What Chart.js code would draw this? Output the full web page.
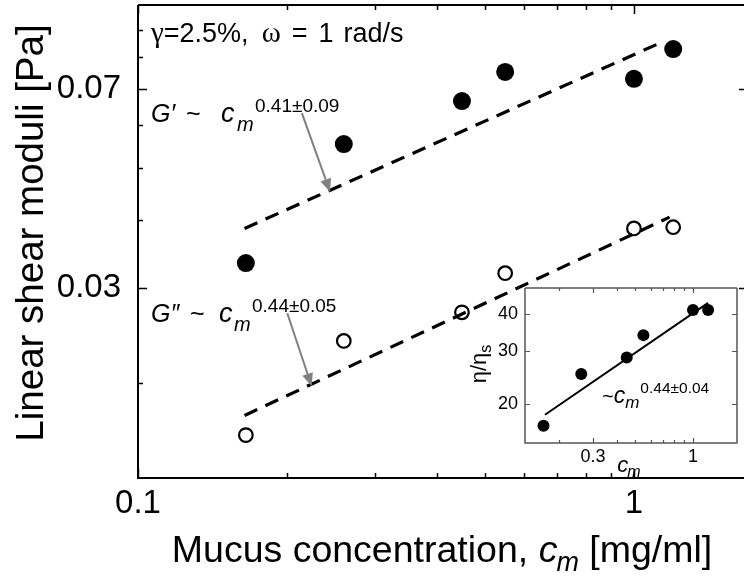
<!DOCTYPE html>
<html>
<head>
<meta charset="utf-8">
<title>Mucus moduli</title>
<script src="https://cdn.jsdelivr.net/npm/chart.js@4/dist/chart.umd.min.js"></script>
<style>
  html, body { margin: 0; padding: 0; background: #fff; }
  #wrap { position: relative; width: 744px; height: 577px; overflow: hidden; }
  #mainChart { position: absolute; left: 0; top: 0; }
  #insetChart { position: absolute; left: 440px; top: 280px; }
</style>
</head>
<body>
<div id="wrap">
  <canvas id="mainChart" width="744" height="577"></canvas>
  <canvas id="insetChart" width="304" height="205"></canvas>
</div>
<script>
const SANS = '"Liberation Sans", Arial, sans-serif';
const SERIF = '"Liberation Serif", "Times New Roman", serif';

// mucus concentration c_m [mg/ml]
const concentration = [0.165, 0.26, 0.45, 0.55, 1.0, 1.2];
// G' and G'' [Pa]
const storageModulus = [0.0333, 0.0553, 0.0664, 0.0752, 0.0730, 0.0829];
const lossModulus = [0.0160, 0.0239, 0.0270, 0.0319, 0.0386, 0.0388];
// inset: eta / eta_s
const viscosityRatio = [16.9, 25.2, 28.6, 34.0, 41.3, 41.3];

// power-law fit end points
const storageFitX = [0.164, 1.14];
const storageFitY = [0.0386, 0.0854];
const lossFitX = [0.164, 1.18];
const lossFitY = [0.0174, 0.0405];
const viscosityFitX = [0.168, 1.2];
const viscosityFitY = [18.4, 43.6];

// ticks
const mainXTicks = [0.1, 0.2, 0.3, 0.4, 0.5, 0.6, 0.7, 0.8, 0.9, 1];
const mainXLabels = [0.1, 1];
const mainYTicks = [0.02, 0.03, 0.04, 0.05, 0.06, 0.07, 0.08, 0.09];
const mainYLabels = [0.03, 0.07];
const insetXTicks = [0.2, 0.3, 0.4, 0.5, 0.6, 0.7, 0.8, 0.9, 1];
const insetXLabels = [0.3, 1];
const insetYTicks = [20, 30, 40];
const insetYLabels = [20, 30, 40];

// arrows pointing at the fit lines (data coordinates)
const arrows = [
  { from: [0.214, 0.0631], to: [0.244, 0.0451] },
  { from: [0.200, 0.0269], to: [0.224, 0.0197] }
];

function pairs(xs, ys) {
  return xs.map((x, i) => ({ x: x, y: ys[i] }));
}

// draws a row of text runs; a run may carry its own x (at), a shift (dx)
// and a baseline offset (dy)
function drawRun(ctx, x, y, runs, align) {
  ctx.save();
  ctx.fillStyle = '#000';
  ctx.textBaseline = 'alphabetic';
  ctx.textAlign = 'left';
  let total = 0;
  runs.forEach(r => {
    ctx.font = r.font;
    total += (r.dx || 0) + ctx.measureText(r.text).width;
  });
  let cx = align === 'center' ? x - total / 2 : x;
  runs.forEach(r => {
    ctx.font = r.font;
    if (r.at !== undefined) cx = r.at;
    cx += r.dx || 0;
    ctx.fillText(r.text, cx, y + (r.dy || 0));
    cx += ctx.measureText(r.text).width;
  });
  ctx.restore();
}

function drawFrame(chart, o) {
  const ctx = chart.ctx;
  const { left, right, top, bottom } = chart.chartArea;
  const xs = chart.scales.x, ys = chart.scales.y;
  ctx.save();
  ctx.strokeStyle = o.color;
  ctx.lineWidth = o.lineWidth;
  ctx.beginPath();
  ctx.moveTo(left, top);
  ctx.lineTo(left, bottom);
  ctx.lineTo(right, bottom);
  if (o.rightLine) ctx.lineTo(right, top);
  ctx.moveTo(left, top);
  ctx.lineTo(right, top);
  ctx.stroke();

  ctx.lineWidth = o.tickWidth;
  ctx.beginPath();
  o.xTicks.forEach(v => {
    const px = Math.round(xs.getPixelForValue(v)) + 0.5;
    const len = o.xMajor.includes(v) ? o.major : o.minor;
    ctx.moveTo(px, bottom);
    ctx.lineTo(px, bottom - len);
    ctx.moveTo(px, top);
    ctx.lineTo(px, top + len);
  });
  o.yTicks.forEach(v => {
    const py = Math.round(ys.getPixelForValue(v)) + 0.5;
    const major = o.yMajor.includes(v);
    const len = major ? o.major : o.minor;
    ctx.moveTo(left, py);
    ctx.lineTo(left + len, py);
    if (major || o.rightMinor) {
      ctx.moveTo(right, py);
      ctx.lineTo(right - o.rightLen, py);
    }
  });
  ctx.stroke();
  ctx.restore();
}

function drawArrow(ctx, x0, y0, x1, y1) {
  const ang = Math.atan2(y1 - y0, x1 - x0);
  const head = 13, half = 5.5;
  const bx = x1 - head * Math.cos(ang), by = y1 - head * Math.sin(ang);
  ctx.save();
  ctx.strokeStyle = '#808080';
  ctx.fillStyle = '#808080';
  ctx.lineWidth = 2;
  ctx.beginPath();
  ctx.moveTo(x0, y0);
  ctx.lineTo(bx, by);
  ctx.stroke();
  ctx.beginPath();
  ctx.moveTo(x1, y1);
  ctx.lineTo(bx + half * Math.sin(ang), by - half * Math.cos(ang));
  ctx.lineTo(bx - half * Math.sin(ang), by + half * Math.cos(ang));
  ctx.closePath();
  ctx.fill();
  ctx.restore();
}

const mainDecor = {
  id: 'mainDecor',
  afterDraw(chart) {
    const ctx = chart.ctx;
    const xs = chart.scales.x, ys = chart.scales.y;
    drawFrame(chart, {
      color: '#000', lineWidth: 2, tickWidth: 1.5, rightLine: false,
      xTicks: mainXTicks, xMajor: mainXLabels,
      yTicks: mainYTicks, yMajor: mainYLabels,
      major: 9, minor: 5, rightLen: 5, rightMinor: false
    });

    arrows.forEach(a => {
      drawArrow(ctx,
        xs.getPixelForValue(a.from[0]), ys.getPixelForValue(a.from[1]),
        xs.getPixelForValue(a.to[0]), ys.getPixelForValue(a.to[1]));
    });

    // measurement conditions
    drawRun(ctx, 151, 42, [
      { text: 'γ', font: '29px ' + SERIF },
      { text: '=2.5%,', font: '27px ' + SANS },
      { text: 'ω', font: '29px ' + SERIF, dx: 13 },
      { text: '=', font: '27px ' + SANS, dx: 11 },
      { text: '1', font: '27px ' + SANS, dx: 11 },
      { text: 'rad/s', font: '27px ' + SANS, dx: 10 }
    ]);

    // scaling laws
    drawRun(ctx, 151, 122, [
      { text: 'G′', font: 'italic 25px ' + SANS, at: 151 },
      { text: '~', font: '25px ' + SANS, at: 186 },
      { text: 'c', font: 'italic 27px ' + SANS, at: 221 },
      { text: 'm', font: 'italic 20px ' + SANS, at: 237, dy: 9 },
      { text: '0.41±0.09', font: '19px ' + SANS, at: 255, dy: -10 }
    ]);
    drawRun(ctx, 151, 322, [
      { text: 'G″', font: 'italic 25px ' + SANS, at: 151 },
      { text: '~', font: '25px ' + SANS, at: 190 },
      { text: 'c', font: 'italic 27px ' + SANS, at: 219 },
      { text: 'm', font: 'italic 20px ' + SANS, at: 234, dy: 9 },
      { text: '0.44±0.05', font: '19px ' + SANS, at: 252, dy: -10 }
    ]);

    // axis titles
    ctx.save();
    ctx.translate(43, 233);
    ctx.rotate(-Math.PI / 2);
    drawRun(ctx, 0, 0, [{ text: 'Linear shear moduli [Pa]', font: '38.5px ' + SANS }], 'center');
    ctx.restore();

    drawRun(ctx, 442, 562, [
      { text: 'Mucus concentration, ', font: '37.5px ' + SANS },
      { text: 'c', font: 'italic 37.5px ' + SANS },
      { text: 'm', font: 'italic 27px ' + SANS, dy: 9, dx: -1 },
      { text: ' [mg/ml]', font: '37.5px ' + SANS }
    ], 'center');
  }
};

const insetDecor = {
  id: 'insetDecor',
  afterDraw(chart) {
    const ctx = chart.ctx;
    drawFrame(chart, {
      color: '#555', lineWidth: 1.5, tickWidth: 1.2, rightLine: true,
      xTicks: insetXTicks, xMajor: insetXLabels,
      yTicks: insetYTicks, yMajor: insetYLabels,
      major: 5, minor: 3, rightLen: 5, rightMinor: true
    });

    drawRun(ctx, 162, 123, [
      { text: '~', font: '20px ' + SANS },
      { text: 'c', font: 'italic 23px ' + SANS },
      { text: 'm', font: 'italic 17px ' + SANS, dy: 5 },
      { text: '0.44±0.04', font: '15.5px ' + SANS, dy: -10, dx: 1 }
    ]);

    ctx.save();
    ctx.translate(46, 84);
    ctx.rotate(-Math.PI / 2);
    drawRun(ctx, 0, 0, [
      { text: 'η/η', font: '22px ' + SANS },
      { text: 's', font: '16px ' + SANS, dy: 5 }
    ], 'center');
    ctx.restore();

    drawRun(ctx, 189, 192, [
      { text: 'c', font: 'italic 22px ' + SANS },
      { text: 'm', font: 'italic 16px ' + SANS, dy: 5, dx: -1 }
    ], 'center');
  }
};

// log axis with a fixed tick list; label padding is zeroed so the plot box
// sits exactly where the layout padding puts it
function logAxis(min, max, ticks, labels, font, padding, size) {
  return {
    type: 'logarithmic',
    min: min,
    max: max,
    grid: { display: false, drawTicks: false },
    border: { display: false },
    afterBuildTicks: s => { s.ticks = ticks.map(v => ({ value: v })); },
    afterFit: s => {
      if (s.isHorizontal()) s.height = size; else s.width = size;
      s.paddingTop = 0;
      s.paddingBottom = 0;
      s.paddingLeft = 0;
      s.paddingRight = 0;
    },
    ticks: {
      autoSkip: false,
      maxRotation: 0,
      padding: padding,
      color: '#000',
      font: font,
      callback: v => labels.includes(v) ? String(v) : ''
    }
  };
}

new Chart(document.getElementById('mainChart'), {
  type: 'scatter',
  data: {
    datasets: [
      {
        data: pairs(storageFitX, storageFitY),
        showLine: true, borderColor: '#000', borderWidth: 3.2, borderDash: [14, 9],
        pointRadius: 0
      },
      {
        data: pairs(lossFitX, lossFitY),
        showLine: true, borderColor: '#000', borderWidth: 3.2, borderDash: [14, 9],
        pointRadius: 0
      },
      {
        data: pairs(concentration, storageModulus),
        pointRadius: 9, pointBackgroundColor: '#000', pointBorderColor: '#000', pointBorderWidth: 0
      },
      {
        data: pairs(concentration, lossModulus),
        pointRadius: 6.8, pointBackgroundColor: 'rgba(0,0,0,0)', pointBorderColor: '#000', pointBorderWidth: 2.2
      }
    ]
  },
  options: {
    responsive: false,
    animation: false,
    layout: { autoPadding: false, padding: { top: 5, right: 0, left: 0, bottom: 0 } },
    plugins: { legend: { display: false }, tooltip: { enabled: false } },
    scales: {
      x: logAxis(0.1, 1.667, mainXTicks, mainXLabels, { family: SANS, size: 33 }, 6, 99),
      y: logAxis(0.01333, 0.1, mainYTicks, mainYLabels, { family: SANS, size: 33 }, 17, 138)
    }
  },
  plugins: [mainDecor]
});

new Chart(document.getElementById('insetChart'), {
  type: 'scatter',
  data: {
    datasets: [
      {
        data: pairs(viscosityFitX, viscosityFitY),
        showLine: true, borderColor: '#000', borderWidth: 2, pointRadius: 0
      },
      {
        data: pairs(concentration, viscosityRatio),
        pointRadius: 6, pointBackgroundColor: '#000', pointBorderColor: '#000', pointBorderWidth: 0
      }
    ]
  },
  options: {
    responsive: false,
    animation: false,
    layout: { autoPadding: false, padding: { top: 8, right: 7, left: 0, bottom: 0 } },
    plugins: { legend: { display: false }, tooltip: { enabled: false } },
    scales: {
      x: logAxis(0.132, 1.70, insetXTicks, insetXLabels, { family: SANS, size: 18 }, 3, 42),
      y: logAxis(14.8, 48.9, insetYTicks, insetYLabels, { family: SANS, size: 18 }, 7, 85)
    }
  },
  plugins: [insetDecor]
});
</script>
</body>
</html>
